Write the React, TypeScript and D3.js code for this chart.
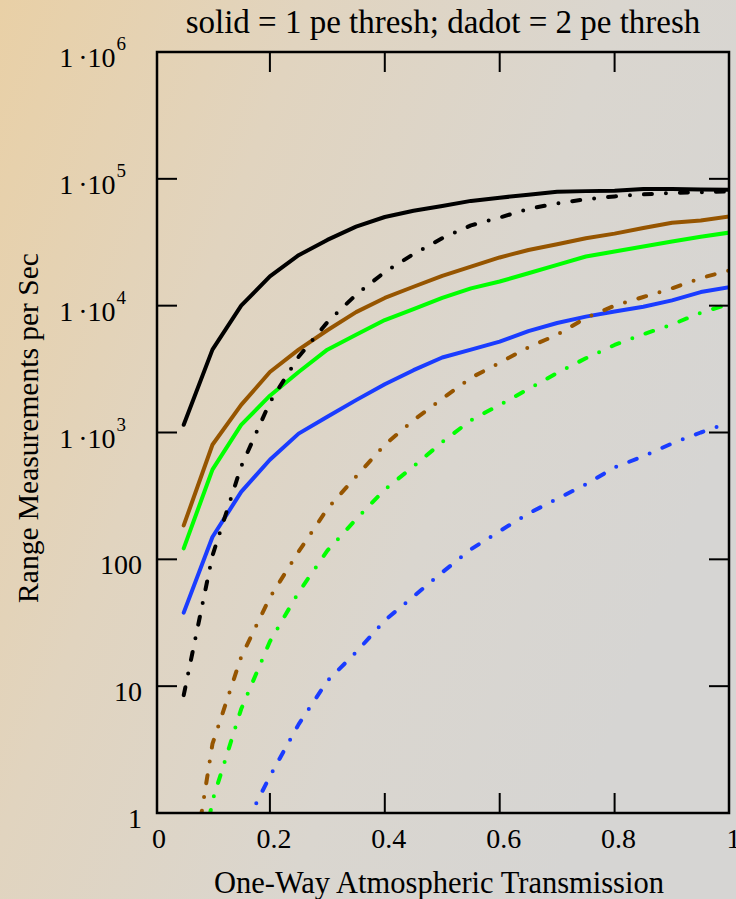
import React from "react";
import * as d3 from "d3";

const xs = [0.05, 0.1, 0.15, 0.2, 0.25, 0.3, 0.35, 0.4, 0.45, 0.5, 0.55, 0.6, 0.65, 0.7, 0.75, 0.8, 0.85, 0.9, 0.95, 1.0];

// solid = 1 pe threshold
const blackSolid = [1150, 4500, 10000, 17000, 25000, 33000, 42000, 50000, 56000, 61000, 67000, 71000, 75000, 79000, 80000, 80500, 83000, 83000, 82500, 82000];
const brownSolid = [185, 800, 1650, 3000, 4500, 6400, 8900, 11500, 14100, 17200, 20300, 24000, 27500, 30500, 34000, 37000, 41000, 45000, 47000, 50500];
const greenSolid = [122, 510, 1150, 1950, 3000, 4500, 5900, 7700, 9400, 11500, 13700, 15500, 18000, 21000, 24400, 26700, 29300, 32000, 35000, 37700];
const blueSolid = [38, 150, 340, 610, 980, 1330, 1800, 2400, 3100, 3900, 4500, 5200, 6300, 7300, 8200, 9000, 9800, 11000, 12800, 14000];

// dadot = 2 pe threshold
const blackDadot = [8.5, 107, 540, 1730, 3950, 7400, 12200, 18400, 25500, 34000, 43000, 49500, 58000, 64000, 69000, 72600, 75500, 77500, 78500, 79500];
const brownDadot = [0.13, 3.5, 17, 50, 115, 250, 450, 800, 1250, 1850, 2700, 3550, 4700, 5900, 8000, 10000, 11700, 13700, 16500, 19000];
const greenDadot = [0.07, 1.25, 6.6, 22.5, 55, 117, 207, 355, 540, 840, 1250, 1650, 2200, 2950, 3850, 4900, 5950, 7100, 8800, 10300];
const blueDadot = [0.01, 0.1, 0.69, 1.95, 5.0, 11, 18.5, 33, 51, 79, 120, 167, 230, 300, 390, 530, 650, 820, 1000, 1200];

const xTicks = [0, 0.2, 0.4, 0.6, 0.8, 1];
const xTickLabels = ["0", "0.2", "0.4", "0.6", "0.8", "1"];
const yTicks = [1, 10, 100, 1e3, 1e4, 1e5, 1e6];
const yTickPlain = ["1", "10", "100"];
const yTickExp = ["3", "4", "5", "6"];

const title = "solid = 1 pe thresh; dadot = 2 pe thresh";
const xLabel = "One-Way Atmospheric Transmission";
const yLabel = "Range Measurements per Sec";

const series = [
  { values: blackSolid, color: "#000000", dashed: false },
  { values: brownSolid, color: "#965500", dashed: false },
  { values: greenSolid, color: "#00ff00", dashed: false },
  { values: blueSolid, color: "#1a3cff", dashed: false },
  { values: blackDadot, color: "#000000", dashed: true },
  { values: brownDadot, color: "#965500", dashed: true },
  { values: greenDadot, color: "#00ff00", dashed: true },
  { values: blueDadot, color: "#1a3cff", dashed: true },
];

const W = 736;
const H = 899;
const FONT = "'Liberation Serif', 'Times New Roman', serif";

export default function App() {
  const x = d3.scaleLinear().domain([0, 1]).range([155, 729.5]);
  const y = d3.scaleLog().domain([1, 1e6]).range([813, 52]);
  const left = 157;
  const right = 729;
  const top = y(1e6);
  const bottom = y(1);
  const line = d3
    .line<[number, number]>()
    .x((d) => x(d[0]))
    .y((d) => y(d[1]));

  return (
    <svg
      width={W}
      height={H}
      style={{ position: "absolute", left: 0, top: 0, display: "block" }}
      fontFamily={FONT}
    >
      <defs>
        <linearGradient id="bg" x1="0" y1="0" x2="1" y2="0.45">
          <stop offset="0" stopColor="#e9d0a6" />
          <stop offset="0.35" stopColor="#e1d4bf" />
          <stop offset="0.7" stopColor="#dad6cf" />
          <stop offset="1" stopColor="#d6d5d3" />
        </linearGradient>
        <clipPath id="plot">
          <rect x={left} y={top} width={right - left} height={bottom - top} />
        </clipPath>
      </defs>
      <rect x={0} y={0} width={W} height={H} fill="url(#bg)" />

      <g clipPath="url(#plot)">
        {series.map((s, i) => (
          <path
            key={i}
            d={line(xs.map((xv, j) => [xv, s.values[j]] as [number, number])) || ""}
            fill="none"
            stroke={s.color}
            strokeWidth={4}
            strokeLinecap="round"
            strokeLinejoin="round"
            strokeDasharray={s.dashed ? "8 14 0 14" : undefined}
          />
        ))}
      </g>

      {/* frame */}
      <rect x={left} y={top} width={right - left} height={bottom - top} fill="none" stroke="#000" strokeWidth={2.5} />
      {/* ticks */}
      {xTicks.slice(1, -1).map((t) => (
        <g key={"xt" + t}>
          <line x1={x(t)} x2={x(t)} y1={bottom} y2={bottom - 20} stroke="#000" strokeWidth={2} />
          <line x1={x(t)} x2={x(t)} y1={top} y2={top + 20} stroke="#000" strokeWidth={2} />
        </g>
      ))}
      {yTicks.slice(1, -1).map((t) => (
        <g key={"yt" + t}>
          <line x1={left} x2={left + 20} y1={y(t)} y2={y(t)} stroke="#000" strokeWidth={2} />
          <line x1={right} x2={right - 20} y1={y(t)} y2={y(t)} stroke="#000" strokeWidth={2} />
        </g>
      ))}

      {/* x tick labels */}
      {xTicks.map((t, i) => (
        <text key={"xl" + t} x={x(t) + 4} y={848} fontSize={28} textAnchor="middle" fill="#000">
          {xTickLabels[i]}
        </text>
      ))}

      {/* y tick labels */}
      {yTicks.slice(0, 3).map((t, i) => (
        <text key={"yp" + t} x={142} y={y(t) + 15} fontSize={28} textAnchor="end" fill="#000">
          {yTickPlain[i]}
        </text>
      ))}
      {yTicks.slice(3).map((t, i) => (
        <text key={"ye" + t} x={126} y={y(t) + 15} fontSize={28} textAnchor="end" fill="#000">
          <tspan>1</tspan>
          <tspan dx={5}>·</tspan>
          <tspan>10</tspan>
          <tspan dx={1} dy={-17} fontSize={19}>{yTickExp[i]}</tspan>
        </text>
      ))}

      {/* title */}
      <text x={443} y={33} fontSize={33} textAnchor="middle" fill="#000">
        {title}
      </text>
      {/* axis labels */}
      <text x={439} y={893} fontSize={30.5} textAnchor="middle" fill="#000">
        {xLabel}
      </text>
      <text
        transform={`translate(38, 428) rotate(-90)`}
        fontSize={29.5}
        textAnchor="middle"
        fill="#000"
      >
        {yLabel}
      </text>
    </svg>
  );
}
